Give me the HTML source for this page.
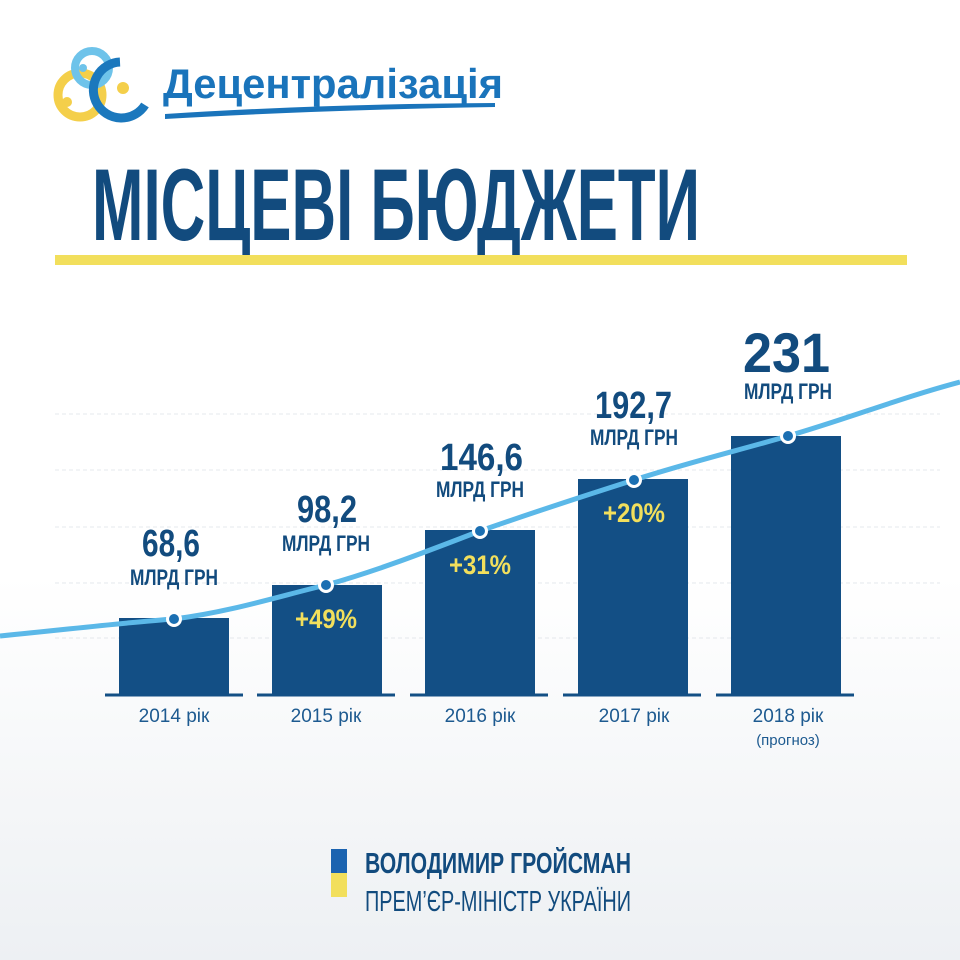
<!DOCTYPE html>
<html><head><meta charset="utf-8"><style>
html,body{margin:0;padding:0}
body{width:960px;height:960px;overflow:hidden;background:#fff;}
</style></head><body>
<svg width="960" height="960" viewBox="0 0 960 960" xmlns="http://www.w3.org/2000/svg" style="position:absolute;left:0;top:0">
<defs>
<linearGradient id="bg" x1="0" y1="0" x2="0" y2="1"><stop offset="0" stop-color="#fff"/><stop offset="0.6" stop-color="#fff"/><stop offset="1" stop-color="#edf0f3"/></linearGradient>
</defs>
<rect width="960" height="960" fill="url(#bg)"/>
<!-- logo -->
<circle cx="80" cy="95" r="22" fill="none" stroke="#f4cf4a" stroke-width="9"/>
<circle cx="92" cy="68" r="17" fill="none" stroke="#6ec3ea" stroke-width="8"/>
<path d="M120 62 A28 28 0 1 0 145 105" fill="none" stroke="#1b78bd" stroke-width="9"/>
<circle cx="67" cy="102" r="5" fill="#f4cf4a"/>
<circle cx="83" cy="68" r="4" fill="#6ec3ea"/>
<circle cx="123" cy="88" r="6" fill="#f4cf4a"/>
<text x="163" y="98" font-family="Liberation Sans,sans-serif" font-weight="bold" font-size="42" fill="#1a74bb" textLength="340" lengthAdjust="spacingAndGlyphs">Децентралізація</text>
<path d="M165 114 Q320 104 495 103 L495 107 Q320 110 165 119 Z" fill="#1a74bb"/>
<!-- title -->
<text x="92" y="240" font-family="Liberation Sans Narrow,Liberation Sans,sans-serif" font-weight="bold" font-size="102" fill="#124b7e" textLength="608" lengthAdjust="spacingAndGlyphs">МІСЦЕВІ БЮДЖЕТИ</text>
<rect x="55" y="255" width="852" height="10" fill="#f2df5c"/>
<!-- grid -->
<g stroke="#e4e8ec" stroke-width="1" stroke-dasharray="4 3">
<line x1="55" y1="414" x2="940" y2="414"/><line x1="55" y1="470" x2="940" y2="470"/>
<line x1="55" y1="527" x2="940" y2="527"/><line x1="55" y1="583" x2="940" y2="583"/>
<line x1="55" y1="638" x2="940" y2="638"/>
</g>
<!-- bars -->
<g fill="#134f85">
<rect x="119" y="618" width="110" height="77"/>
<rect x="272" y="585" width="110" height="110"/>
<rect x="425" y="530" width="110" height="165"/>
<rect x="578" y="479" width="110" height="216"/>
<rect x="731" y="436" width="110" height="259"/>
</g>
<g stroke="#134f85" stroke-width="3">
<line x1="105" y1="695" x2="243" y2="695"/><line x1="257" y1="695" x2="395" y2="695"/>
<line x1="410" y1="695" x2="548" y2="695"/><line x1="563" y1="695" x2="701" y2="695"/>
<line x1="716" y1="695" x2="854" y2="695"/>
</g>
<path d="M0 636 C80 628 130 622 174 619 C230 612 280 596 326 585 C380 570 430 550 480 531 C540 510 590 494 634 480 C690 462 740 450 788 436 C850 418 900 398 960 382" fill="none" stroke="#5bb8e8" stroke-width="5"/>
<g fill="#1b6fb2" stroke="#fff" stroke-width="3">
<circle cx="174" cy="619" r="6.5"/><circle cx="326" cy="585" r="6.5"/><circle cx="480" cy="531" r="6.5"/><circle cx="634" cy="480" r="6.5"/><circle cx="788" cy="436" r="6.5"/>
</g>
<!-- labels -->
<g font-family="Liberation Sans Narrow,Liberation Sans,sans-serif" font-weight="bold" fill="#124b7e" lengthAdjust="spacingAndGlyphs">
<text x="142" y="556" font-size="38" textLength="58" lengthAdjust="spacingAndGlyphs">68,6</text><text x="130" y="585" font-size="22" textLength="88" lengthAdjust="spacingAndGlyphs">МЛРД ГРН</text>
<text x="297" y="522" font-size="38" textLength="60" lengthAdjust="spacingAndGlyphs">98,2</text><text x="282" y="551" font-size="22" textLength="88" lengthAdjust="spacingAndGlyphs">МЛРД ГРН</text>
<text x="440" y="470" font-size="38" textLength="83" lengthAdjust="spacingAndGlyphs">146,6</text><text x="436" y="497" font-size="22" textLength="88" lengthAdjust="spacingAndGlyphs">МЛРД ГРН</text>
<text x="595" y="418" font-size="38" textLength="77" lengthAdjust="spacingAndGlyphs">192,7</text><text x="590" y="445" font-size="22" textLength="88" lengthAdjust="spacingAndGlyphs">МЛРД ГРН</text>
<text x="743" y="372" font-size="56" textLength="87" lengthAdjust="spacingAndGlyphs">231</text><text x="744" y="399" font-size="22" textLength="88" lengthAdjust="spacingAndGlyphs">МЛРД ГРН</text>
</g>
<g font-family="Liberation Sans Narrow,Liberation Sans,sans-serif" font-weight="bold" fill="#f2df5c" font-size="27">
<text x="295" y="628" textLength="62" lengthAdjust="spacingAndGlyphs">+49%</text><text x="449" y="574" textLength="62" lengthAdjust="spacingAndGlyphs">+31%</text><text x="603" y="522" textLength="62" lengthAdjust="spacingAndGlyphs">+20%</text>
</g>
<g font-family="Liberation Sans,sans-serif" fill="#1d5a90" text-anchor="middle" font-size="19">
<text x="174" y="722">2014 рік</text><text x="326" y="722">2015 рік</text><text x="480" y="722">2016 рік</text>
<text x="634" y="722">2017 рік</text><text x="788" y="722">2018 рік</text>
<text x="788" y="745" font-size="15">(прогноз)</text>
</g>
<!-- footer -->
<rect x="331" y="849" width="16" height="24" fill="#1b63b0"/>
<rect x="331" y="873" width="16" height="24" fill="#f2df5c"/>
<text x="365" y="873" font-family="Liberation Sans Narrow,Liberation Sans,sans-serif" font-weight="bold" font-size="29" fill="#124b7e" textLength="266" lengthAdjust="spacingAndGlyphs">ВОЛОДИМИР ГРОЙСМАН</text>
<text x="365" y="911" font-family="Liberation Sans Narrow,Liberation Sans,sans-serif" font-size="29" fill="#124b7e" textLength="266" lengthAdjust="spacingAndGlyphs">ПРЕМ’ЄР-МІНІСТР УКРАЇНИ</text>
</svg>
</body></html>
